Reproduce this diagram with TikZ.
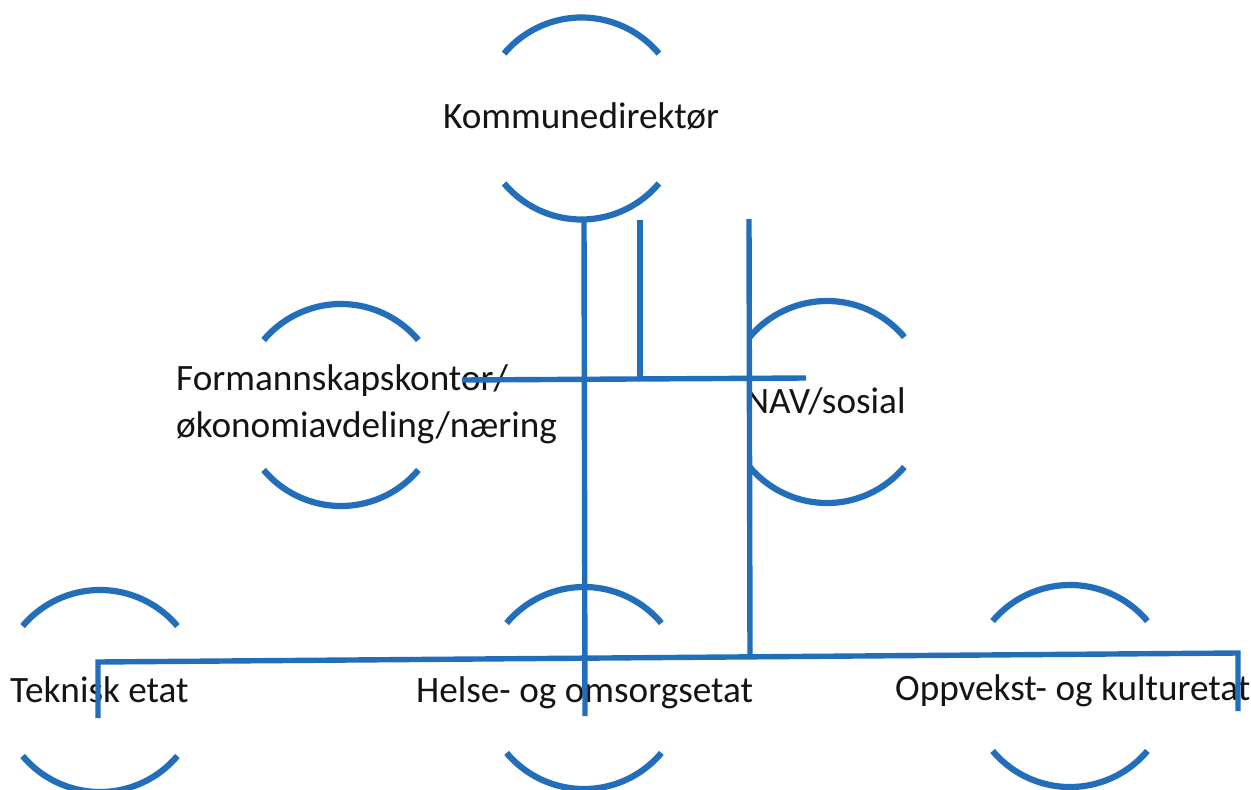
\documentclass[tikz,border=0pt]{standalone}
\usepackage{fontspec}
\setmainfont{Carlito}
\definecolor{orgblue}{RGB}{34,110,186}
\definecolor{txt}{RGB}{20,20,20}
\begin{document}
\begin{tikzpicture}[x=1pt,y=1pt,
  arcline/.style={draw=orgblue,line width=6.2pt},
  conn/.style={draw=orgblue,line width=5.4pt},
  label/.style={inner sep=0pt,anchor=base west,text=txt,font=\fontsize{37.2}{47}\selectfont}]
\useasboundingbox[fill=white] (0,0) rectangle (1251,-790);
% centres of the ring decorations
\coordinate (kc) at (581.5,-118.5);
\coordinate (fc) at (341,-405);
\coordinate (nc) at (827,-402);
\coordinate (tc) at (100,-691);
\coordinate (hc) at (584,-688);
\coordinate (oc) at (1070,-686);
\foreach \c in {kc,fc,nc,tc,hc,oc}{
  \draw[arcline,shift={(\c)}] (40:101) arc[start angle=40,end angle=140,radius=101];
  \draw[arcline,shift={(\c)}] (220:101) arc[start angle=220,end angle=320,radius=101];
}
% labels
\node[label] (k) at (443,-128) {Kommunedirektør};
\node[label,align=left] (f) at (176,-437) {Formannskapskontor/\\økonomiavdeling/næring};
\node[label] (n) at (745,-413) {NAV/sosial};
\node[label] (t) at (10,-702) {Teknisk etat};
\node[label] (h) at (416,-702) {Helse- og omsorgsetat};
\node[label] (o) at (895,-700) {Oppvekst- og kulturetat};
% connector points
\coordinate (v1top) at (584,-220);
\coordinate (v1bot) at (585,-716);
\coordinate (v2top) at (640,-220);
\coordinate (v2bot) at (640,-379);
\coordinate (v3top) at (749,-219);
\coordinate (v3bot) at (750,-657);
\coordinate (hmL) at (462,-380);
\coordinate (hmR) at (806,-378);
\coordinate (hbL) at (98,-662);
\coordinate (hbR) at (1238,-653);
\coordinate (tdrop) at (98,-718);
\coordinate (odrop) at (1238,-711);
\draw[conn] (v1top) -- (v1bot);
\draw[conn] (v2top) -- (v2bot);
\draw[conn] (v3top) -- (v3bot);
\draw[conn] (hmL) -- (hmR);
\draw[conn,line join=miter] (tdrop) -- (hbL) -- (hbR) -- (odrop);
\end{tikzpicture}
\end{document}
